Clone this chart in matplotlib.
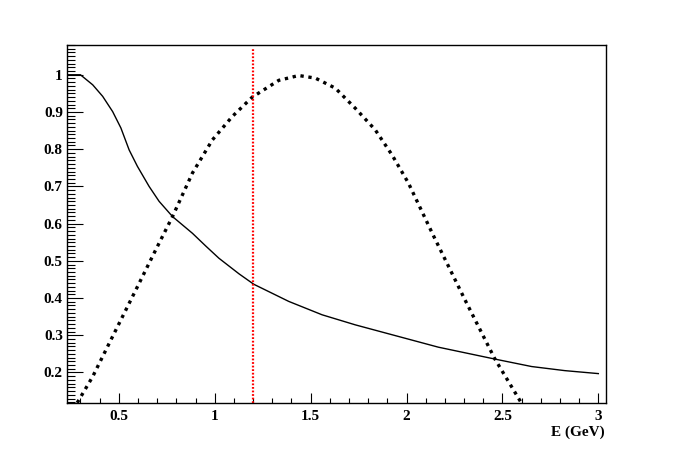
import numpy as np
import matplotlib
matplotlib.use("Agg")
import matplotlib.pyplot as plt
from matplotlib.ticker import MultipleLocator, FixedLocator

# solid curve
e_solid = [0.23, 0.30, 0.364, 0.416, 0.468, 0.511, 0.554, 0.597, 0.658, 0.710, 0.780,
           0.884, 0.953, 1.022, 1.127, 1.204, 1.386, 1.560, 1.733, 1.906, 2.166,
           2.461, 2.652, 2.825, 3.00]
y_solid = [1.0, 1.0, 0.973, 0.942, 0.901, 0.857, 0.798, 0.754, 0.700, 0.660, 0.619,
           0.574, 0.540, 0.507, 0.465, 0.437, 0.391, 0.355, 0.328, 0.304, 0.268,
           0.236, 0.216, 0.205, 0.197]

# dotted curve
e_dot = [0.262, 0.364, 0.468, 0.589, 0.693, 0.780, 0.884, 0.988, 1.092, 1.196, 1.334,
         1.438, 1.525, 1.629, 1.733, 1.837, 1.924, 2.010, 2.140, 2.305, 2.461, 2.60, 2.63]
y_dot = [0.10, 0.189, 0.297, 0.422, 0.530, 0.619, 0.736, 0.825, 0.888, 0.940, 0.985,
         0.998, 0.991, 0.964, 0.910, 0.852, 0.785, 0.709, 0.568, 0.395, 0.236, 0.117, 0.09]

e_cut = 1.2
x_range = (0.23, 3.04)
y_range = (0.118, 1.08)

plt.rcParams['font.family'] = ['Liberation Serif', 'DejaVu Serif']
plt.rcParams['font.weight'] = 'bold'

fig = plt.figure(figsize=(6.76, 4.49), dpi=100)
ax = fig.add_axes([67/676, 1 - 403/449, 539/676, 358/449])

ax.plot(e_solid, y_solid, color='black', lw=1.0, solid_joinstyle='round')
ax.plot(e_dot, y_dot, color='black', lw=2.4, linestyle=(0, (1, 1.4)),
        dash_capstyle='butt')
ax.plot([e_cut, e_cut], [y_range[0], 1.07], color='red', lw=1.6,
        linestyle=(0, (0.8, 0.8)))

ax.set_xlim(*x_range)
ax.set_ylim(*y_range)

ax.xaxis.set_major_locator(FixedLocator([0.5, 1, 1.5, 2, 2.5, 3]))
ax.xaxis.set_minor_locator(MultipleLocator(0.1))
ax.yaxis.set_major_locator(FixedLocator([0.2, 0.3, 0.4, 0.5, 0.6, 0.7, 0.8, 0.9, 1.0]))
ax.yaxis.set_minor_locator(MultipleLocator(0.01))
ax.set_xticklabels(['0.5', '1', '1.5', '2', '2.5', '3'])
ax.set_yticklabels(['0.2', '0.3', '0.4', '0.5', '0.6', '0.7', '0.8', '0.9', '1'])

ax.tick_params(axis='both', which='both', direction='in', top=False, right=False,
               width=0.8, labelsize=11)
ax.tick_params(axis='y', which='major', length=11.5, pad=3)
ax.tick_params(axis='y', which='minor', length=5.8)
ax.tick_params(axis='x', which='major', length=7.2, pad=5)
ax.tick_params(axis='x', which='minor', length=3.6)
for lab in ax.get_xticklabels() + ax.get_yticklabels():
    lab.set_fontweight('bold')

for sp in ax.spines.values():
    sp.set_linewidth(1.0)

fig.text(605/676, 1 - 432/449, 'E (GeV)', ha='right', va='center',
         fontsize=11, fontweight='bold')

fig.savefig('out.png', dpi=100)
